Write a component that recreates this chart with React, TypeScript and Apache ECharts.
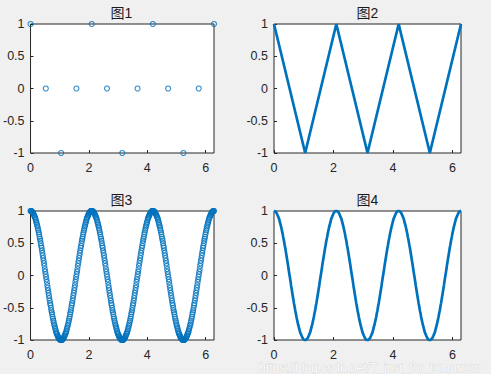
import React, { useEffect, useRef } from "react";
import * as echarts from "echarts";

// coarse samples (图1, 图2)
const xCoarse = [0, 0.5236, 1.0472, 1.5708, 2.0944, 2.618, 3.1416, 3.6652, 4.1888, 4.7124, 5.236, 5.7596, 6.2832];
const yCoarse = [1, 0, -1, 0, 1, 0, -1, 0, 1, 0, -1, 0, 1];

// fine samples (图3, 图4): evenly spaced from 0 to 2π
const fineStep = (2 * Math.PI) / 450;
const yFine = [
  1, 1, 1, .99, .99, .98, .97, .96, .94, .93, .91, .9, .88, .86, .83, .81, .78, .76, .73, .7, .67, .64, .6, .57, .54, .5, .46, .43, .39, .35, .31, .27, .23, .19, .15, .1, .06, .02,
  -.02, -.06, -.1, -.15, -.19, -.23, -.27, -.31, -.35, -.39, -.43, -.46, -.5, -.54, -.57, -.6, -.64, -.67, -.7, -.73, -.76, -.78, -.81, -.83, -.86, -.88, -.9, -.91, -.93, -.94, -.96, -.97, -.98, -.99, -.99, -1, -1, -1,
  -1, -1, -.99, -.99, -.98, -.97, -.96, -.94, -.93, -.91, -.9, -.88, -.86, -.83, -.81, -.78, -.76, -.73, -.7, -.67, -.64, -.6, -.57, -.54, -.5, -.46, -.43, -.39, -.35, -.31, -.27, -.23, -.19, -.15, -.1, -.06, -.02,
  .02, .06, .1, .15, .19, .23, .27, .31, .35, .39, .43, .46, .5, .54, .57, .6, .64, .67, .7, .73, .76, .78, .81, .83, .86, .88, .9, .91, .93, .94, .96, .97, .98, .99, .99, 1, 1,
  1, 1, 1, .99, .99, .98, .97, .96, .94, .93, .91, .9, .88, .86, .83, .81, .78, .76, .73, .7, .67, .64, .6, .57, .54, .5, .46, .43, .39, .35, .31, .27, .23, .19, .15, .1, .06, .02,
  -.02, -.06, -.1, -.15, -.19, -.23, -.27, -.31, -.35, -.39, -.43, -.46, -.5, -.54, -.57, -.6, -.64, -.67, -.7, -.73, -.76, -.78, -.81, -.83, -.86, -.88, -.9, -.91, -.93, -.94, -.96, -.97, -.98, -.99, -.99, -1, -1, -1,
  -1, -1, -.99, -.99, -.98, -.97, -.96, -.94, -.93, -.91, -.9, -.88, -.86, -.83, -.81, -.78, -.76, -.73, -.7, -.67, -.64, -.6, -.57, -.54, -.5, -.46, -.43, -.39, -.35, -.31, -.27, -.23, -.19, -.15, -.1, -.06, -.02,
  .02, .06, .1, .15, .19, .23, .27, .31, .35, .39, .43, .46, .5, .54, .57, .6, .64, .67, .7, .73, .76, .78, .81, .83, .86, .88, .9, .91, .93, .94, .96, .97, .98, .99, .99, 1, 1,
  1, 1, 1, .99, .99, .98, .97, .96, .94, .93, .91, .9, .88, .86, .83, .81, .78, .76, .73, .7, .67, .64, .6, .57, .54, .5, .46, .43, .39, .35, .31, .27, .23, .19, .15, .1, .06, .02,
  -.02, -.06, -.1, -.15, -.19, -.23, -.27, -.31, -.35, -.39, -.43, -.46, -.5, -.54, -.57, -.6, -.64, -.67, -.7, -.73, -.76, -.78, -.81, -.83, -.86, -.88, -.9, -.91, -.93, -.94, -.96, -.97, -.98, -.99, -.99, -1, -1, -1,
  -1, -1, -.99, -.99, -.98, -.97, -.96, -.94, -.93, -.91, -.9, -.88, -.86, -.83, -.81, -.78, -.76, -.73, -.7, -.67, -.64, -.6, -.57, -.54, -.5, -.46, -.43, -.39, -.35, -.31, -.27, -.23, -.19, -.15, -.1, -.06, -.02,
  .02, .06, .1, .15, .19, .23, .27, .31, .35, .39, .43, .46, .5, .54, .57, .6, .64, .67, .7, .73, .76, .78, .81, .83, .86, .88, .9, .91, .93, .94, .96, .97, .98, .99, .99, 1, 1,
  1,
];

const titles = ["图1", "图2", "图3", "图4"];
const xTickValues = [0, 2, 4, 6];
const yTickValues = [-1, -0.5, 0, 0.5, 1];
const watermark = "https://blog.csdn.net/T_just_for_tomorrow";

const BLUE = "#0072BD";
const AXIS = "#262626";
const FONT = '"Liberation Sans", Arial, "Noto Sans CJK SC", sans-serif';

const gridBoxes = [
  { left: 29, top: 24, width: 185, height: 129 },
  { left: 274, top: 24, width: 187, height: 129 },
  { left: 29, top: 211, width: 185, height: 129 },
  { left: 274, top: 211, width: 187, height: 129 },
];

export default function App() {
  const ref = useRef<HTMLDivElement>(null);

  useEffect(() => {
    if (!ref.current) return;
    const chart = echarts.init(ref.current, undefined, { renderer: "svg" });

    const coarse = xCoarse.map((x, i) => [x, yCoarse[i]]);
    const fine = yFine.map((y, i) => [i * fineStep, y]);

    const grids = gridBoxes.map((g) => ({
      ...g,
      show: true,
      backgroundColor: "#ffffff",
      borderColor: AXIS,
      borderWidth: 1,
      containLabel: false,
    }));

    const xAxes = gridBoxes.map((_, i) => ({
      type: "value",
      gridIndex: i,
      position: "bottom",
      min: xTickValues[0],
      max: 2 * Math.PI,
      interval: xTickValues[1] - xTickValues[0],
      axisLine: { show: false, onZero: false },
      axisTick: { show: true, inside: true, length: 3, lineStyle: { color: AXIS, width: 1 } },
      splitLine: { show: false },
      axisLabel: {
        show: true,
        showMaxLabel: false,
        color: AXIS,
        fontSize: 12.5,
        fontFamily: FONT,
        margin: 9,
        formatter: (v: number) => (xTickValues.includes(v) ? String(v) : ""),
      },
    }));

    const yAxes = gridBoxes.map((_, i) => ({
      type: "value",
      gridIndex: i,
      position: "left",
      min: yTickValues[0],
      max: yTickValues[yTickValues.length - 1],
      interval: yTickValues[1] - yTickValues[0],
      axisLine: { show: false, onZero: false },
      axisTick: { show: true, inside: true, length: 3, lineStyle: { color: AXIS, width: 1 } },
      splitLine: { show: false },
      axisLabel: { show: true, color: AXIS, fontSize: 12.5, fontFamily: FONT, margin: 6 },
    }));

    const markerStyle = {
      color: "rgba(0,0,0,0)",
      borderColor: BLUE,
      borderWidth: 1.1,
    };

    const series = [
      {
        type: "scatter",
        xAxisIndex: 0,
        yAxisIndex: 0,
        data: coarse,
        symbol: "circle",
        symbolSize: 5,
        itemStyle: markerStyle,
        clip: false,
        silent: true,
      },
      {
        type: "line",
        xAxisIndex: 1,
        yAxisIndex: 1,
        data: coarse,
        showSymbol: false,
        lineStyle: { color: BLUE, width: 2.7 },
        clip: false,
        silent: true,
      },
      {
        type: "scatter",
        xAxisIndex: 2,
        yAxisIndex: 2,
        data: fine,
        symbol: "circle",
        symbolSize: 5,
        itemStyle: markerStyle,
        clip: false,
        silent: true,
        large: false,
      },
      {
        type: "line",
        xAxisIndex: 3,
        yAxisIndex: 3,
        data: fine,
        showSymbol: false,
        lineStyle: { color: BLUE, width: 2.7 },
        clip: false,
        silent: true,
      },
    ];

    const graphic: any[] = gridBoxes.map((g, i) => ({
      type: "text",
      x: g.left + g.width / 2,
      y: g.top - 11,
      silent: true,
      style: {
        text: titles[i],
        textAlign: "center",
        textVerticalAlign: "middle",
        font: `14px ${FONT}`,
        fill: "#1a1a1a",
      },
    }));
    graphic.push({
      type: "text",
      x: 480,
      y: 368,
      silent: true,
      z: 100,
      style: {
        text: watermark,
        textAlign: "right",
        textVerticalAlign: "middle",
        font: `12px ${FONT}`,
        fill: "rgba(255,255,255,0.9)",
        stroke: "rgba(190,190,190,0.5)",
        lineWidth: 0.8,
      },
    });

    chart.setOption({
      animation: false,
      backgroundColor: "#f0f0f0",
      grid: grids,
      xAxis: xAxes,
      yAxis: yAxes,
      series,
      graphic,
    } as any);

    return () => chart.dispose();
  }, []);

  return (
    <div
      ref={ref}
      style={{ position: "fixed", left: 0, top: 0, width: 491, height: 374 }}
    />
  );
}
